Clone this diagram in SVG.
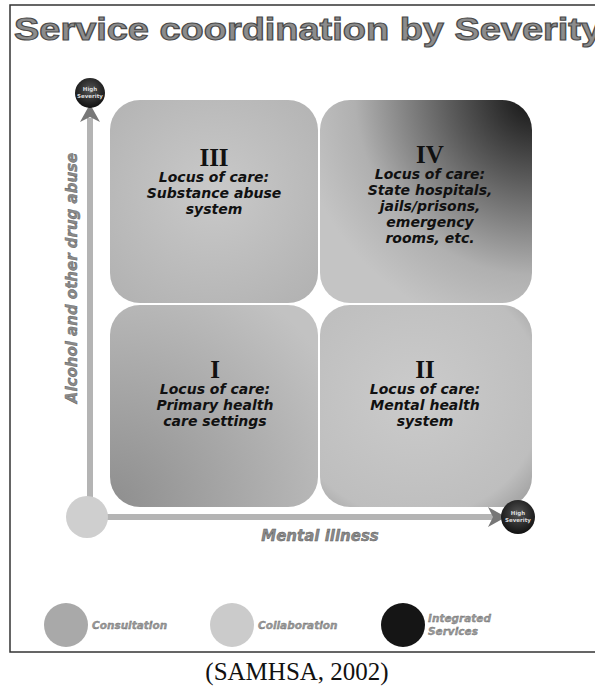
<svg xmlns="http://www.w3.org/2000/svg" width="595" height="690" viewBox="0 0 595 690">
<style>
.title{font-family:"Liberation Sans",Arial,sans-serif;font-weight:bold;font-size:31px;fill:#8c8c8c;stroke:#4a4a4a;stroke-width:1.1}
.num{font-family:"Liberation Serif","Times New Roman",serif;font-weight:bold;font-size:25px;fill:#111;text-anchor:middle}
.q{font-family:"DejaVu Sans",Verdana,sans-serif;font-weight:bold;font-style:italic;font-size:14px;fill:#111;text-anchor:middle}
.ax{font-family:"DejaVu Sans",Verdana,sans-serif;font-weight:bold;font-style:italic;font-size:15px;fill:#8a8a8a;stroke:#555;stroke-width:0.4;text-anchor:middle}
.leg{font-family:"DejaVu Sans",Verdana,sans-serif;font-weight:bold;font-style:italic;font-size:10.5px;fill:#9a9a9a;stroke:#666;stroke-width:0.3}
.hs{font-family:"DejaVu Sans",Verdana,sans-serif;font-weight:bold;font-size:5.5px;fill:#ddd;text-anchor:middle}
.cite{font-family:"Liberation Serif","Times New Roman",serif;font-size:25px;fill:#111;text-anchor:middle}
.axisline{stroke:#b4b4b4;stroke-width:6;fill:none}
</style>
<defs>
<radialGradient id="g3" cx="0.5" cy="0.45" r="0.7"><stop offset="0" stop-color="#c9c9c9"/><stop offset="1" stop-color="#b2b2b2"/></radialGradient>
<radialGradient id="g4" gradientUnits="userSpaceOnUse" cx="535" cy="95" r="240"><stop offset="0" stop-color="#111"/><stop offset="0.35" stop-color="#5a5a5a"/><stop offset="0.75" stop-color="#b0b0b0"/><stop offset="1" stop-color="#c4c4c4"/></radialGradient>
<radialGradient id="g1" gradientUnits="userSpaceOnUse" cx="110" cy="507" r="260"><stop offset="0" stop-color="#8e8e8e"/><stop offset="1" stop-color="#c2c2c2"/></radialGradient>
<radialGradient id="g2" cx="0.45" cy="0.45" r="0.75"><stop offset="0" stop-color="#cbcbcb"/><stop offset="0.8" stop-color="#bebebe"/><stop offset="1" stop-color="#9e9e9e"/></radialGradient>
<radialGradient id="dark" cx="0.5" cy="0.4" r="0.6"><stop offset="0" stop-color="#555"/><stop offset="1" stop-color="#111"/></radialGradient>
</defs>
<rect x="10" y="5" width="600" height="647" fill="none" stroke="#333" stroke-width="1.5"/>
<text class="title" x="14" y="40" textLength="588" lengthAdjust="spacingAndGlyphs">Service coordination by Severity</text>
<g id="q3"><rect x="110" y="100" width="208" height="203" rx="30" fill="url(#g3)"/>
<text class="num" x="214" y="166">III</text>
<text class="q" x="214" y="182">Locus of care:</text>
<text class="q" x="214" y="198">Substance abuse</text>
<text class="q" x="214" y="214">system</text></g>
<g id="q4"><rect x="320" y="100" width="212" height="203" rx="30" fill="url(#g4)"/>
<text class="num" x="430" y="163">IV</text>
<text class="q" x="430" y="179">Locus of care:</text>
<text class="q" x="430" y="195">State hospitals,</text>
<text class="q" x="430" y="211">jails/prisons,</text>
<text class="q" x="430" y="227">emergency</text>
<text class="q" x="430" y="243">rooms, etc.</text></g>
<g id="q1"><rect x="110" y="305" width="208" height="202" rx="30" fill="url(#g1)"/>
<text class="num" x="215" y="378">I</text>
<text class="q" x="215" y="394">Locus of care:</text>
<text class="q" x="215" y="410">Primary health</text>
<text class="q" x="215" y="426">care settings</text></g>
<g id="q2"><rect x="320" y="305" width="212" height="202" rx="30" fill="url(#g2)"/>
<text class="num" x="425" y="378">II</text>
<text class="q" x="425" y="394">Locus of care:</text>
<text class="q" x="425" y="410">Mental health</text>
<text class="q" x="425" y="426">system</text></g>
<g id="connectors">
<line class="axisline" x1="90" y1="500" x2="90" y2="118"/>
<polygon points="90,104 80,122 90,117 100,122" fill="#777"/>
<line class="axisline" x1="100" y1="517" x2="496" y2="517"/>
<polygon points="506,517 488,507 493,517 488,527" fill="#777"/>
</g>
<g id="origin"><circle cx="87" cy="517" r="21" fill="#cfcfcf"/></g>
<g id="hs-top"><circle cx="90" cy="93" r="15" fill="url(#dark)"/>
<text class="hs" x="90" y="91">High</text><text class="hs" x="90" y="98">Severity</text></g>
<g id="hs-right"><circle cx="518" cy="517" r="17" fill="url(#dark)"/>
<text class="hs" x="518" y="515">High</text><text class="hs" x="518" y="522">Severity</text></g>
<text class="ax" x="320" y="541">Mental illness</text>
<text class="ax" transform="translate(77,278) rotate(-90)">Alcohol and other drug abuse</text>
<g id="legend-consultation"><circle cx="66" cy="625" r="22" fill="#a9a9a9"/><text class="leg" x="92" y="629">Consultation</text></g>
<g id="legend-collaboration"><circle cx="232" cy="625" r="22" fill="#cbcbcb"/><text class="leg" x="258" y="629">Collaboration</text></g>
<g id="legend-integrated"><circle cx="403" cy="625" r="22" fill="#151515"/><text class="leg" x="428" y="622">Integrated</text><text class="leg" x="428" y="635">Services</text></g>
<text class="cite" x="297" y="680">(SAMHSA, 2002)</text>
</svg>
